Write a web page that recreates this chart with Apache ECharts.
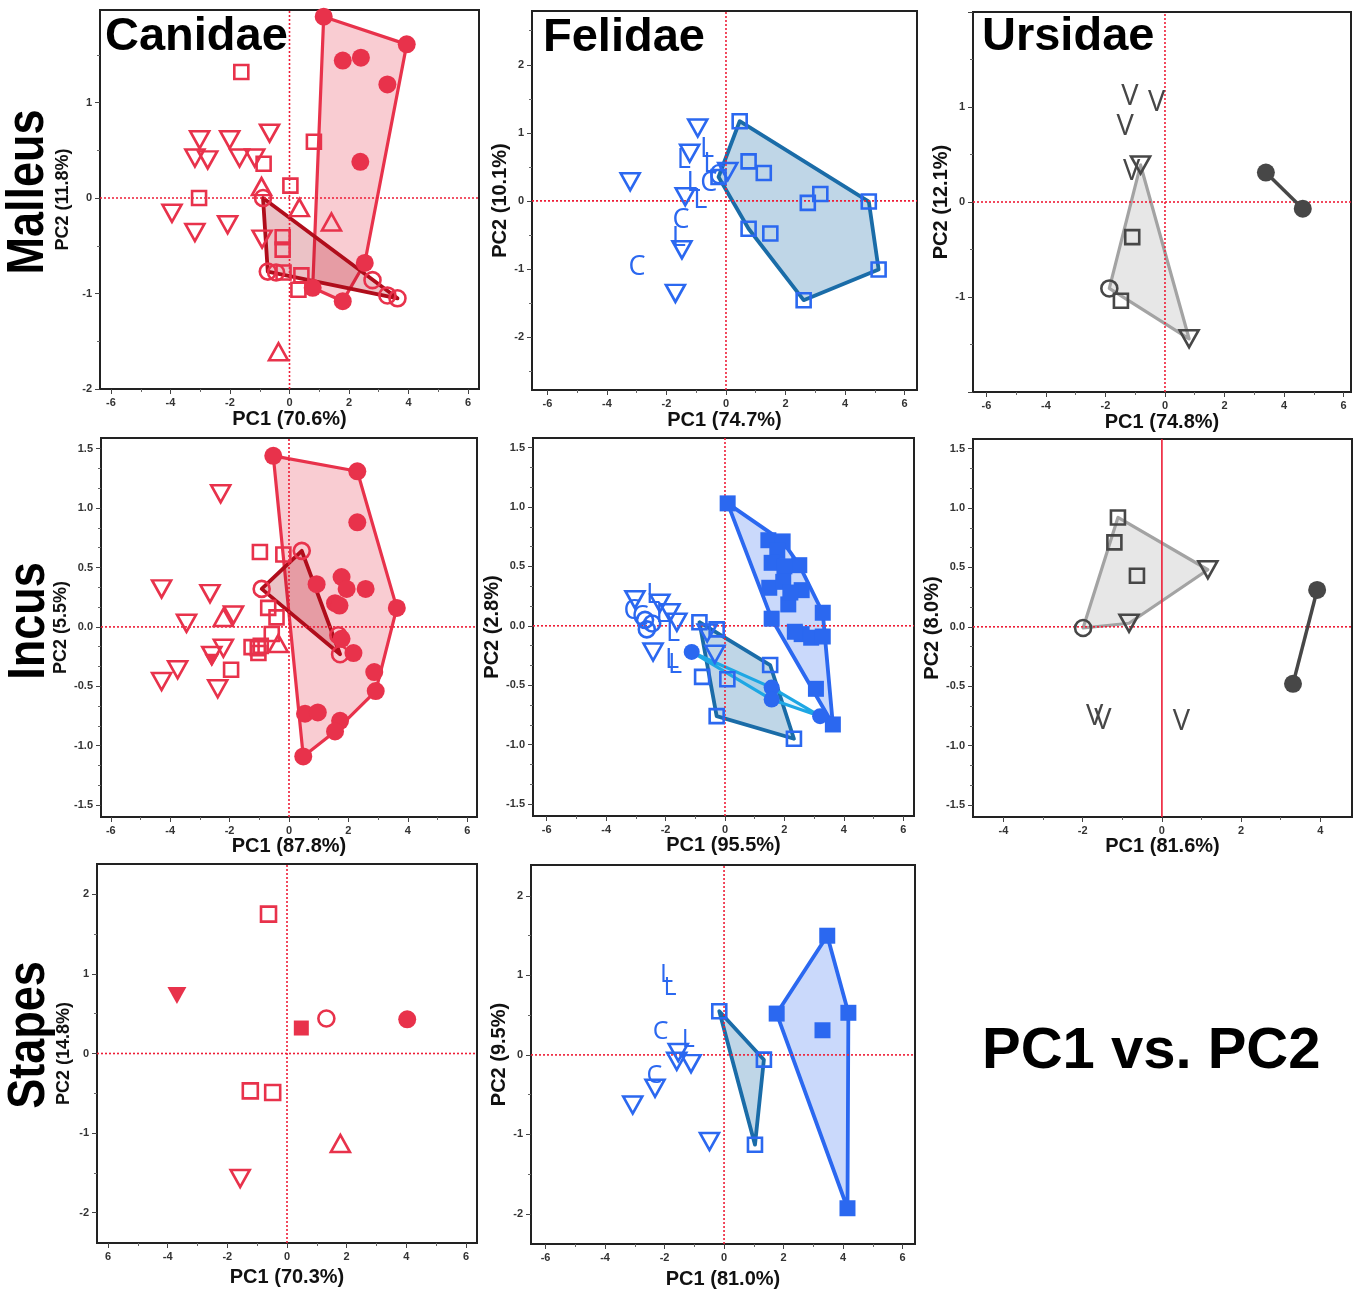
<!DOCTYPE html>
<html><head><meta charset="utf-8">
<script src="https://cdn.jsdelivr.net/npm/echarts@6/dist/echarts.min.js"></script>
<style>html,body{margin:0;padding:0;background:#fff}#c{width:1357px;height:1291px}</style>
</head><body><div id="c"></div>
<script>
// ================= DATA =================
// Tick labels
const xTicks6 = [-6,-4,-2,0,2,4,6];
const xTicks4 = [-4,-2,0,2,4];
const xLabelsStapesCan = ['6','-4','-2','0','2','4','6'];
const yTicksMalCan = [-2,-1,0,1];
const yTicks2 = [-2,-1,0,1,2];
const yLabelsMalUrs = [-1,0,1];
const yTicksIncus = [-1.5,-1,-0.5,0,0.5,1,1.5];
const xNames = ['PC1 (70.6%)','PC1 (74.7%)','PC1 (74.8%)','PC1 (87.8%)','PC1 (95.5%)','PC1 (81.6%)','PC1 (70.3%)','PC1 (81.0%)'];
const yNames = ['PC2 (11.8%)','PC2 (10.1%)','PC2 (12.1%)','PC2 (5.5%)','PC2 (2.8%)','PC2 (8.0%)','PC2 (14.8%)','PC2 (9.5%)'];
const xRanges = [[-6.37,6.37],[-6.52,6.42],[-6.45,6.25],[-6.33,6.33],[-6.46,6.36],[-4.77,4.8],[-6.37,6.37],[-6.49,6.42]];
const yRanges = [[-2,1.97],[-2.78,2.79],[-2,2],[-1.6,1.59],[-1.6,1.58],[-1.6,1.58],[-2.38,2.38],[-2.38,2.39]];
const rowLabels = ['Malleus','Incus','Stapes'];
const colLabels = ['Canidae','Felidae','Ursidae'];

// Malleus – Canidae
const mCanFilledCircle = [[1.15,1.90],[3.94,1.61],[1.79,1.44],[2.40,1.47],[3.29,1.19],[2.38,0.38],[2.53,-0.68],[0.78,-0.94],[1.79,-1.08]];
const mCanOpenCircle = [[-0.89,0.0],[-0.73,-0.77],[-0.45,-0.78],[2.79,-0.86],[3.29,-1.02],[3.63,-1.05]];
const mCanOpenSquare = [[-1.62,1.32],[0.82,0.59],[-0.87,0.36],[0.03,0.13],[-3.04,0.0],[-0.23,-0.41],[-0.23,-0.54],[0.40,-0.81],[0.30,-0.96],[-0.20,-0.78]];
const mCanOpenDown = [[-3.02,0.61],[-3.18,0.42],[-2.75,0.40],[-2.01,0.61],[-1.68,0.42],[-1.17,0.42],[-0.67,0.68],[-3.95,-0.16],[-3.18,-0.36],[-2.08,-0.28],[-0.92,-0.43]];
const mCanOpenUp = [[-0.94,0.12],[0.33,-0.10],[1.41,-0.25],[-0.37,-1.61]];

// Malleus – Felidae
const mFelOpenSquare = [[0.46,1.17],[0.76,0.58],[1.27,0.41],[3.17,0.10],[2.75,-0.03],[4.80,-0.01],[5.13,-1.01],[2.61,-1.46],[0.76,-0.41],[1.49,-0.48],[-0.25,0.35]];
const mFelOpenDown = [[-0.95,1.07],[-1.22,0.70],[-3.22,0.28],[-1.37,0.06],[-1.70,-1.36],[-1.48,-0.72],[0.06,0.43]];
const mFelL = [[-1.42,0.60],[-0.64,0.75],[-0.53,0.53],[-1.09,0.26],[-0.86,0.01],[-1.59,-0.55]];
const mFelC = [[-0.58,0.26],[-1.51,-0.28],[-2.99,-0.97],[-0.30,0.36]];

// Malleus – Ursidae
const mUrsFilledCircle = [[3.39,0.31],[4.63,-0.07]];
const mUrsOpenDown = [[-0.82,0.39],[0.81,-1.44]];
const mUrsOpenCircle = [[-1.87,-0.91]];
const mUrsOpenSquare = [[-1.10,-0.37],[-1.48,-1.04]];
const mUrsV = [[-1.18,1.11],[-0.28,1.04],[-1.34,0.79],[-1.12,0.32]];

// Incus – Canidae
const iCanFilledCircle = [[-0.53,1.44],[2.30,1.31],[2.30,0.88],[1.77,0.42],[0.93,0.36],[1.94,0.32],[2.58,0.32],[1.55,0.20],[1.70,0.18],[3.63,0.16],[1.77,-0.10],[2.17,-0.22],[2.87,-0.38],[2.92,-0.54],[0.54,-0.73],[0.97,-0.72],[1.72,-0.79],[1.55,-0.88],[0.48,-1.09]];
const iCanOpenCircle = [[0.43,0.64],[-0.92,0.32],[1.72,-0.23],[1.66,-0.07]];
const iCanOpenSquare = [[-0.98,0.63],[-0.19,0.61],[-0.70,0.16],[-0.42,0.08],[-0.58,-0.06],[-1.26,-0.17],[-1.05,-0.18],[-0.95,-0.16],[-1.95,-0.36],[-1.03,-0.22]];
const iCanOpenDown = [[-2.30,1.12],[-4.29,0.32],[-2.66,0.28],[-3.45,0.03],[-1.87,0.10],[-2.21,-0.18],[-2.60,-0.24],[-3.75,-0.36],[-4.29,-0.46],[-2.40,-0.52]];
const iCanOpenUp = [[-2.21,0.08],[-0.36,-0.14]];
const iCanFilledDown = [[-2.60,-0.28]];

// Incus – Felidae
const iFelFilledSquare = [[0.09,1.03],[1.46,0.72],[1.94,0.71],[1.76,0.63],[1.57,0.53],[2.50,0.51],[2.00,0.50],[1.49,0.32],[1.96,0.37],[2.58,0.30],[2.13,0.18],[3.29,0.11],[1.57,0.06],[2.58,-0.07],[2.90,-0.10],[3.29,-0.09],[3.06,-0.53],[3.63,-0.83],[2.20,0.28],[2.35,-0.05]];
const iFelOpenSquare = [[-0.86,0.03],[-0.28,-0.03],[1.52,-0.33],[-0.77,-0.43],[0.08,-0.45],[-0.28,-0.76],[2.32,-0.95]];
const iFelFilledCircle = [[-1.12,-0.22],[1.57,-0.52],[1.57,-0.62],[3.20,-0.76]];
const iFelOpenDown = [[-3.03,0.22],[-2.19,0.19],[-2.42,-0.22],[-1.85,0.11],[-1.62,0.03],[-0.34,-0.24],[-0.60,-0.06]];
const iFelOpenCircle = [[-2.69,0.05],[-2.63,-0.03],[-2.45,0.02]];
const iFelL = [[-2.42,0.26],[-1.78,-0.29],[-1.68,-0.33],[-1.75,-0.06],[-2.10,0.10]];
const iFelC = [[-3.13,0.12],[-2.85,0.07]];

// Incus – Ursidae
const iUrsFilledCircle = [[3.92,0.31],[3.31,-0.48]];
const iUrsOpenSquare = [[-1.11,0.92],[-1.20,0.71],[-0.63,0.43]];
const iUrsOpenDown = [[1.16,0.48],[-0.83,0.03]];
const iUrsOpenCircle = [[-1.99,-0.01]];
const iUrsV = [[-1.70,-0.76],[-1.49,-0.79],[0.49,-0.80]];

// Stapes – Canidae
const sCanOpenSquare = [[-0.62,1.75],[-1.23,-0.47],[-0.48,-0.49]];
const sCanFilledDown = [[-3.69,0.73]];
const sCanFilledSquare = [[0.48,0.32]];
const sCanOpenCircle = [[1.32,0.44]];
const sCanFilledCircle = [[4.03,0.43]];
const sCanOpenUp = [[1.79,-1.13]];
const sCanOpenDown = [[-1.57,-1.57]];

// Stapes – Felidae
const sFelFilledSquare = [[3.47,1.50],[1.77,0.52],[4.18,0.53],[3.31,0.31],[4.15,-1.93]];
const sFelOpenSquare = [[-0.16,0.55],[1.34,-0.06],[1.04,-1.13]];
const sFelOpenDown = [[-1.54,0.03],[-1.59,-0.08],[-1.11,-0.11],[-2.32,-0.42],[-3.07,-0.63],[-0.49,-1.09]];
const sFelL = [[-1.93,1.01],[-1.82,0.84],[-1.20,0.19]];
const sFelC = [[-2.13,0.29],[-2.34,-0.27]];

// ================= STYLE / LAYOUT =================
const RED='#E8324B', DRED='#B00D1B', BLUE='#2B68F0', STEEL='#1A6CA8', CYAN='#1EA7E4', DGRAY='#474747', LGRAY='#A3A3A3', REF='#EE1D36';
const FONT='"Liberation Sans", Arial, sans-serif';
const layout = [
 {left:100, top:10, width:379, height:379, xGap:20, yGap:28, yNameSize:18},
 {left:532, top:11, width:385, height:379, xGap:20, yGap:22, yNameSize:20},
 {left:973, top:12, width:378, height:380, xGap:20, yGap:21, yNameSize:20},
 {left:101, top:438, width:376, height:379, xGap:19, yGap:29, yNameSize:18},
 {left:533, top:438, width:381, height:378, xGap:19, yGap:26, yNameSize:20},
 {left:973, top:439, width:379, height:378, xGap:19, yGap:28, yNameSize:20},
 {left:97, top:864, width:380, height:379, xGap:24, yGap:24, yNameSize:18},
 {left:531, top:865, width:384, height:379, xGap:25, yGap:21, yNameSize:20}
];
const xMajor = [xTicks6,xTicks6,xTicks6,xTicks6,xTicks6,xTicks4,xTicks6,xTicks6];
const yMajor = [yTicksMalCan,yTicks2,yTicks2,yTicksIncus,yTicksIncus,yTicksIncus,yTicks2,yTicks2];
const yLabelVals = [yTicksMalCan,yTicks2,yLabelsMalUrs,yTicksIncus,yTicksIncus,yTicksIncus,yTicks2,yTicks2];

function minors(step, sub, r, majors){
  const out=[]; const d=step/sub;
  for(let k=Math.ceil(r[0]/d); k*d<=r[1]+1e-9; k++){
    const v=+(k*d).toFixed(6);
    if(!majors.some(m=>Math.abs(m-v)<1e-6)) out.push(v);
  }
  return out;
}

const grids=[], xAxes=[], yAxes=[], series=[];
layout.forEach((L,g)=>{
  grids.push({left:L.left, top:L.top, width:L.width, height:L.height, show:true, borderColor:'#222', borderWidth:2, backgroundColor:'rgba(0,0,0,0)'});
  const xr=xRanges[g], yr=yRanges[g];
  const incus = (g>=3 && g<=5);
  const xFmt = g===6 ? (v=>xLabelsStapesCan[xTicks6.indexOf(v)]) : (v=>String(v));
  const yFmt = incus ? (v=>v.toFixed(1)) : (v=>String(v));
  xAxes.push({gridIndex:g, type:'value', min:xr[0], max:xr[1], position:'bottom',
    axisLine:{show:false, onZero:false}, splitLine:{show:false},
    axisTick:{show:true, length:5, customValues:xMajor[g], lineStyle:{color:'#444', width:1}},
    axisLabel:{customValues:xMajor[g], formatter:xFmt, fontSize:11, fontWeight:'bold', color:'#333', margin:8, fontFamily:FONT},
    name:xNames[g], nameLocation:'middle', nameGap:L.xGap,
    nameTextStyle:{fontSize:20, fontWeight:'bold', color:'#111', fontFamily:FONT}});
  xAxes.push({gridIndex:g, type:'value', min:xr[0], max:xr[1], position:'bottom',
    axisLine:{show:false, onZero:false}, splitLine:{show:false}, axisLabel:{show:false},
    axisTick:{show:true, length:3, customValues:minors(2,2,xr,xMajor[g]), lineStyle:{color:'#666', width:1}}});
  yAxes.push({gridIndex:g, type:'value', min:yr[0], max:yr[1], position:'left',
    axisLine:{show:false, onZero:false}, splitLine:{show:false},
    axisTick:{show:true, length:5, customValues:yMajor[g], lineStyle:{color:'#444', width:1}},
    axisLabel:{customValues:yLabelVals[g], formatter:yFmt, fontSize:11, fontWeight:'bold', color:'#333', margin:8, fontFamily:FONT},
    name:yNames[g], nameLocation:'middle', nameGap:L.yGap,
    nameTextStyle:{fontSize:L.yNameSize, fontWeight:'bold', color:'#111', fontFamily:FONT}});
  yAxes.push({gridIndex:g, type:'value', min:yr[0], max:yr[1], position:'left',
    axisLine:{show:false, onZero:false}, splitLine:{show:false}, axisLabel:{show:false},
    axisTick:{show:true, length:3, customValues: incus ? minors(0.5,3,yr,yMajor[g]) : minors(1,2,yr,yMajor[g]), lineStyle:{color:'#666', width:1}}});
  // reference lines at 0
  series.push({type:'line', xAxisIndex:2*g, yAxisIndex:2*g, z:2, silent:true, symbol:'none', animation:false,
    data:[[0,yr[0]],[0,yr[1]]], lineStyle:{color:REF, width:1.6, opacity:1, type: g===5 ? 'solid' : [2,2]}});
  series.push({type:'line', xAxisIndex:2*g, yAxisIndex:2*g, z:2, silent:true, symbol:'none', animation:false,
    data:[[xr[0],0],[xr[1],0]], lineStyle:{color:REF, width:1.6, opacity:1, type:[2,2]}});
});

function convexHull(pts){
  const p=pts.slice().sort((a,b)=>a[0]-b[0]||a[1]-b[1]);
  const cr=(o,a,b)=>(a[0]-o[0])*(b[1]-o[1])-(a[1]-o[1])*(b[0]-o[0]);
  const lo=[],up=[];
  for(const q of p){while(lo.length>=2&&cr(lo[lo.length-2],lo[lo.length-1],q)<=0)lo.pop();lo.push(q);}
  for(let i=p.length-1;i>=0;i--){const q=p[i];while(up.length>=2&&cr(up[up.length-2],up[up.length-1],q)<=0)up.pop();up.push(q);}
  up.pop();lo.pop();return lo.concat(up);
}
function hull(pts, idx){ return idx ? idx.map(i=>pts[i]) : convexHull(pts); }
function poly(g, verts, stroke, fill, lw){
  series.push({type:'custom', xAxisIndex:2*g, yAxisIndex:2*g, z:1, silent:true, animation:false, data:[verts[0]],
    renderItem:(p,api)=>({type:'polygon', shape:{points:verts.map(v=>api.coord(v))}, style:{fill:fill, stroke:stroke, lineWidth:lw, lineJoin:'round'}})});
}
function seg(g, pts, color, lw){
  series.push({type:'line', xAxisIndex:2*g, yAxisIndex:2*g, z:3, silent:true, symbol:'none', animation:false, data:pts, lineStyle:{color:color, width:lw, opacity:1}});
}
const MK = {
  fc:{symbol:'circle', size:18, fill:true},
  fs:{symbol:'rect', size:15, fill:true},
  fd:{symbol:'triangle', size:[15,13], rot:180, fill:true},
  oc:{symbol:'circle', size:16},
  os:{symbol:'rect', size:14},
  od:{symbol:'triangle', size:[19,17], rot:180},
  ou:{symbol:'triangle', size:[19,17]}
};
function mk(g, pts, kind, color, size){
  const m=MK[kind];
  series.push({type:'scatter', xAxisIndex:2*g, yAxisIndex:2*g, z:4, silent:true, animation:false, data:pts,
    symbol:m.symbol, symbolSize:size||m.size, symbolRotate:m.rot||0,
    itemStyle: m.fill ? {color:color, opacity:1} : {color:'rgba(0,0,0,0)', borderColor:color, borderWidth:2.6, opacity:1}});
}
function txt(g, pts, ch, color, fs){
  series.push({type:'scatter', xAxisIndex:2*g, yAxisIndex:2*g, z:4, silent:true, animation:false, data:pts,
    symbol:'circle', symbolSize:1, itemStyle:{color:'rgba(0,0,0,0)', opacity:1},
    label:{show:true, position:'inside', formatter:ch, fontSize:fs||27, fontFamily:'"Open Sans", "Noto Sans", sans-serif', color:color, opacity:1}});
}

// Panel 0: Malleus Canidae
poly(0, hull(mCanFilledCircle), RED, 'rgba(232,50,75,0.25)', 3.2);
poly(0, hull(mCanOpenCircle), DRED, 'rgba(176,13,27,0.25)', 3.8);
mk(0, mCanOpenSquare,'os',RED); mk(0, mCanOpenDown,'od',RED); mk(0, mCanOpenUp,'ou',RED);
mk(0, mCanOpenCircle,'oc',RED); mk(0, mCanFilledCircle,'fc',RED);
// Panel 1: Malleus Felidae
poly(1, hull(mFelOpenSquare), STEEL, 'rgba(26,108,168,0.28)', 3.8);
mk(1, mFelOpenSquare,'os',BLUE); mk(1, mFelOpenDown,'od',BLUE);
txt(1, mFelL,'L',BLUE); txt(1, mFelC,'C',BLUE);
// Panel 2: Malleus Ursidae
poly(2, hull(mUrsOpenDown.concat(mUrsOpenCircle)), LGRAY, 'rgba(160,160,160,0.25)', 3.2);
seg(2, mUrsFilledCircle, DGRAY, 3.5);
mk(2, mUrsOpenDown,'od',DGRAY); mk(2, mUrsOpenCircle,'oc',DGRAY); mk(2, mUrsOpenSquare,'os',DGRAY);
mk(2, mUrsFilledCircle,'fc',DGRAY); txt(2, mUrsV,'V',DGRAY,29);
// Panel 3: Incus Canidae
poly(3, hull(iCanFilledCircle), RED, 'rgba(232,50,75,0.25)', 3.2);
poly(3, hull(iCanOpenCircle,[0,2,1]), DRED, 'rgba(176,13,27,0.25)', 3.8);
mk(3, iCanOpenSquare,'os',RED); mk(3, iCanOpenDown,'od',RED); mk(3, iCanOpenUp,'ou',RED);
mk(3, iCanFilledDown,'fd',RED); mk(3, iCanOpenCircle,'oc',RED); mk(3, iCanFilledCircle,'fc',RED);
// Panel 4: Incus Felidae
poly(4, hull(iFelFilledSquare), BLUE, 'rgba(43,104,240,0.25)', 3.8);
poly(4, hull(iFelOpenSquare,[0,2,6,5]), STEEL, 'rgba(26,108,168,0.28)', 3.8);
poly(4, hull(iFelFilledCircle,[0,1,3,2]), CYAN, 'rgba(30,167,228,0.12)', 3.2);
mk(4, iFelOpenSquare,'os',BLUE); mk(4, iFelOpenDown,'od',BLUE); mk(4, iFelOpenCircle,'oc',BLUE);
txt(4, iFelL,'L',BLUE); txt(4, iFelC,'C',BLUE);
mk(4, iFelFilledSquare,'fs',BLUE,16); mk(4, iFelFilledCircle,'fc',BLUE,16);
// Panel 5: Incus Ursidae
poly(5, hull(iUrsOpenSquare.concat(iUrsOpenDown, iUrsOpenCircle)), LGRAY, 'rgba(160,160,160,0.25)', 3.2);
seg(5, iUrsFilledCircle, DGRAY, 3.5);
mk(5, iUrsOpenSquare,'os',DGRAY); mk(5, iUrsOpenDown,'od',DGRAY); mk(5, iUrsOpenCircle,'oc',DGRAY);
mk(5, iUrsFilledCircle,'fc',DGRAY); txt(5, iUrsV,'V',DGRAY,29);
// Panel 6: Stapes Canidae
mk(6, sCanOpenSquare,'os',RED,15); mk(6, sCanFilledDown,'fd',RED,[19,17]); mk(6, sCanFilledSquare,'fs',RED);
mk(6, sCanOpenCircle,'oc',RED); mk(6, sCanFilledCircle,'fc',RED); mk(6, sCanOpenUp,'ou',RED); mk(6, sCanOpenDown,'od',RED);
// Panel 7: Stapes Felidae
poly(7, hull(sFelFilledSquare), BLUE, 'rgba(43,104,240,0.25)', 3.8);
poly(7, hull(sFelOpenSquare), STEEL, 'rgba(26,108,168,0.28)', 3.8);
mk(7, sFelOpenSquare,'os',BLUE); mk(7, sFelOpenDown,'od',BLUE);
txt(7, sFelL,'L',BLUE,25); txt(7, sFelC,'C',BLUE,25);
mk(7, sFelFilledSquare,'fs',BLUE,16);

const rowPos=[[29,192],[30,621],[30,1035]];
const colPos=[[105,37],[543,38],[982,37]];
const graphic=[];
rowLabels.forEach((t,i)=>graphic.push({type:'text', x:rowPos[i][0], y:rowPos[i][1], rotation:Math.PI/2, scaleX:0.9, scaleY:1.05,
  style:{text:t, fontSize:50, fontWeight:'bold', fontFamily:FONT, fill:'#000', align:'center', verticalAlign:'middle', textAlign:'center', textVerticalAlign:'middle'}}));
colLabels.forEach((t,i)=>graphic.push({type:'text', x:colPos[i][0], y:colPos[i][1], z:10,
  style:{text:t, fontSize:47, fontWeight:'bold', fontFamily:FONT, fill:'#000', align:'left', verticalAlign:'middle', textAlign:'left', textVerticalAlign:'middle'}}));
graphic.push({type:'text', x:982, y:1052, style:{text:'PC1 vs. PC2', fontSize:58, fontWeight:'bold', fontFamily:FONT, fill:'#000', align:'left', verticalAlign:'middle', textAlign:'left', textVerticalAlign:'middle'}});

const chart=echarts.init(document.getElementById('c'),null,{renderer:'canvas'});
chart.setOption({animation:false, backgroundColor:'#fff', grid:grids, xAxis:xAxes, yAxis:yAxes, series:series, graphic:graphic});
</script></body></html>
